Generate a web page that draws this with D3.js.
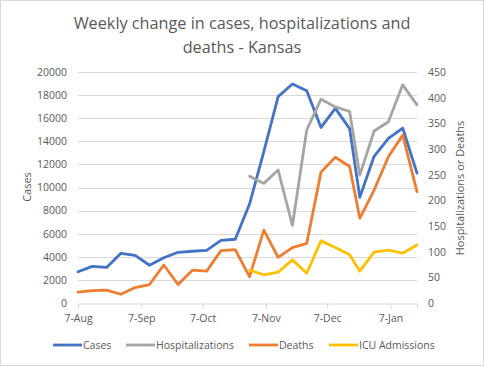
<!DOCTYPE html>
<html><head><meta charset="utf-8">
<script src="https://cdn.jsdelivr.net/npm/d3@7"></script>
<style>body{margin:0;background:#fff}text{font-family:"Open Sans",sans-serif}</style>
</head><body><svg id="c" width="484" height="366"></svg>
<script>
const dates = ["2020-08-07","2020-08-14","2020-08-21","2020-08-28","2020-09-04","2020-09-11","2020-09-18","2020-09-25","2020-10-02","2020-10-09","2020-10-16","2020-10-23","2020-10-30","2020-11-06","2020-11-13","2020-11-20","2020-11-27","2020-12-04","2020-12-11","2020-12-18","2020-12-23","2020-12-30","2021-01-06","2021-01-13","2021-01-20"];
const cases = [2710,3170,3080,4300,4120,3270,3920,4390,4480,4560,5420,5520,8570,13100,17870,18960,18380,15200,16850,15100,9150,12700,14250,15150,11250];
const hospitalizations = [null,null,null,null,null,null,null,null,null,null,null,null,247,233,259,151,337,397,382,373,249,335,353,425,386];
const deaths = [21,24,25,17,30,36,74,36,64,62,102,104,51,142,89,108,116,255,284,266,165,220,285,327,217];
const icu = [null,null,null,null,null,null,null,null,null,null,null,null,64,55,60,84,58,121,108,94,62,99,103,97,113];
const xTickDates = ["2020-08-07","2020-09-07","2020-10-07","2020-11-07","2020-12-07","2021-01-07"];
const xTickLabels = ["7-Aug","7-Sep","7-Oct","7-Nov","7-Dec","7-Jan"];
const leftTicks = [0,2000,4000,6000,8000,10000,12000,14000,16000,18000,20000];
const rightTicks = [0,50,100,150,200,250,300,350,400,450];
const seriesNames = ["Cases","Hospitalizations","Deaths","ICU Admissions"];
const colors = ["#4472C4","#A5A5A5","#ED7D31","#FFC000"];

const parse = d3.timeParse("%Y-%m-%d");
const X = dates.map(parse);
const svg = d3.select("#c");
const txt = "#595959", grid = "#d9d9d9";

svg.append("rect").attr("x",0.5).attr("y",0.5).attr("width",483).attr("height",365)
  .attr("fill","#fff").attr("stroke","#d9d9d9");

const x = d3.scaleTime().domain([X[0], X[X.length-1]]).range([78,417]);
const yL = d3.scaleLinear().domain([0,20000]).range([303,72]);
const yR = d3.scaleLinear().domain([0,450]).range([303,72]);

// gridlines
svg.append("g").selectAll("line").data(leftTicks.slice(1)).join("line")
  .attr("x1",78).attr("x2",417).attr("y1",d=>Math.round(yL(d))+0.5).attr("y2",d=>Math.round(yL(d))+0.5)
  .attr("stroke",grid).attr("stroke-width",1);

// x axis
const xa = svg.append("g").attr("transform","translate(0,303.5)")
  .call(d3.axisBottom(x).tickValues(xTickDates.map(parse)).tickFormat((d,i)=>xTickLabels[i]).tickSizeOuter(0).tickSize(5).tickPadding(6));
xa.select(".domain").attr("stroke",grid);
xa.selectAll(".tick line").attr("stroke",grid);
xa.selectAll("text").attr("fill",txt).attr("font-size",10.5).attr("font-family","Open Sans");

// left axis
const la = svg.append("g").attr("transform","translate(78,0)")
  .call(d3.axisLeft(yL).tickValues(leftTicks).tickFormat(d3.format("d")).tickSize(0).tickPadding(11));
la.select(".domain").remove();
la.selectAll("text").attr("fill",txt).attr("font-size",10.5).attr("font-family","Open Sans");

// right axis
const ra = svg.append("g").attr("transform","translate(417,0)")
  .call(d3.axisRight(yR).tickValues(rightTicks).tickFormat(d3.format("d")).tickSize(0).tickPadding(11));
ra.select(".domain").remove();
ra.selectAll("text").attr("fill",txt).attr("font-size",10.5).attr("font-family","Open Sans");

// lines
const series = [
  {v:cases, y:yL}, {v:hospitalizations, y:yR}, {v:deaths, y:yR}, {v:icu, y:yR}
];
const drawOrder = [0,1,2,3];
drawOrder.forEach(i=>{
  const s = series[i];
  const line = d3.line().defined((d,j)=>s.v[j]!=null).x((d,j)=>x(X[j])).y((d,j)=>s.y(s.v[j]));
  svg.append("path").datum(s.v).attr("d",line).attr("fill","none")
    .attr("stroke",colors[i]).attr("stroke-width",2.8).attr("stroke-linejoin","round").attr("stroke-linecap","round");
});

// axis titles
svg.append("text").attr("transform","translate(31,187) rotate(-90)").attr("text-anchor","middle")
  .attr("fill",txt).attr("font-size",11).text("Cases");
svg.append("text").attr("transform","translate(464,188) rotate(-90)").attr("text-anchor","middle")
  .attr("fill",txt).attr("font-size",11).text("Hospitalizations or Deaths");

// title
const t1 = svg.append("text").attr("x",242).attr("y",29).attr("text-anchor","middle").attr("fill",txt)
  .attr("font-size",18).text("Weekly change in cases, hospitalizations and");
const w = t1.node().getComputedTextLength();
const fs = 18*337/w;
t1.attr("font-size",fs);
svg.append("text").attr("x",242).attr("y",53).attr("text-anchor","middle").attr("fill",txt)
  .attr("font-size",fs).text("deaths - Kansas");

// legend
const legX = [53,126,249,329];
const lg = svg.append("g");
seriesNames.forEach((n,i)=>{
  lg.append("line").attr("x1",legX[i]).attr("x2",legX[i]+29).attr("y1",345).attr("y2",345)
    .attr("stroke",colors[i]).attr("stroke-width",2.8);
  lg.append("text").attr("x",legX[i]+30).attr("y",349).attr("fill",txt).attr("font-size",10.5).text(n);
});
</script></body></html>
